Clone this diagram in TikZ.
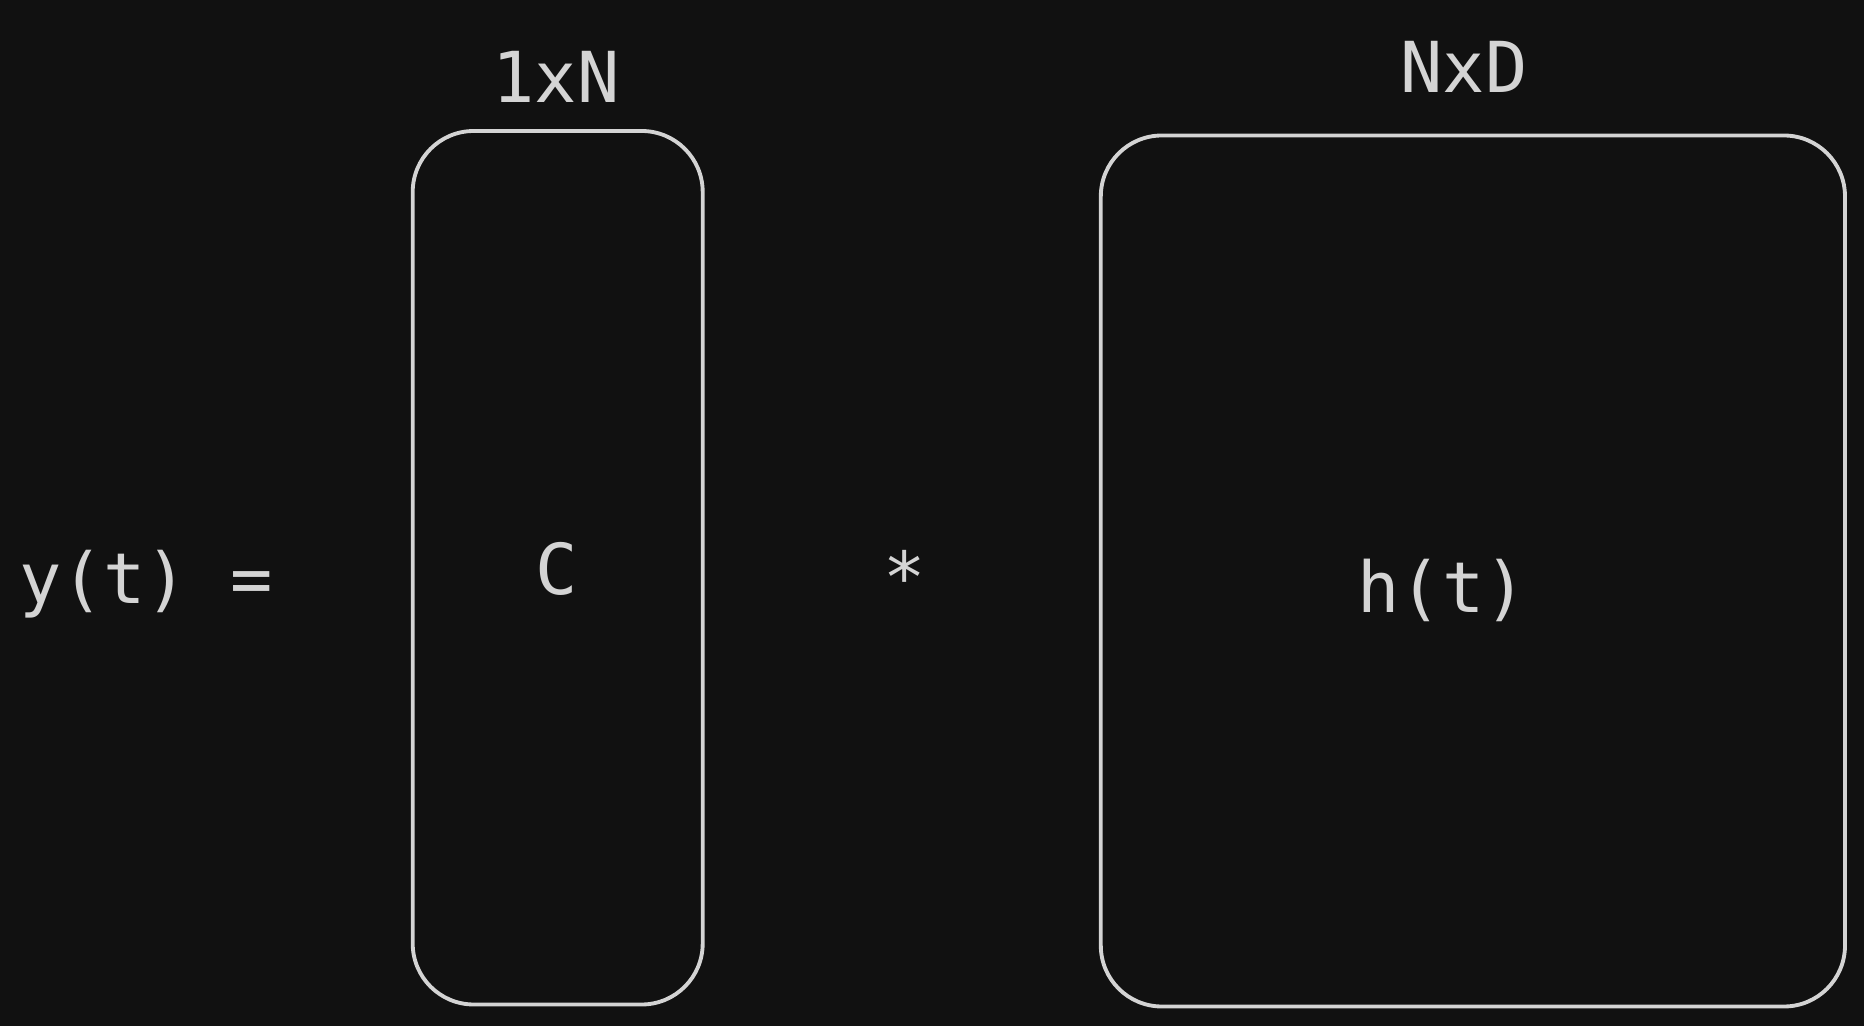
\documentclass[tikz,border=0pt]{standalone}
\usepackage{fontspec}
\setmonofont{DejaVu Sans Mono}
\usepackage{tikz}
\definecolor{bgdark}{HTML}{111111}
\definecolor{inkgray}{HTML}{D4D4D4}

\begin{document}
\begin{tikzpicture}[x=0.02cm,y=-0.02cm,
    line cap=round,line join=round,
    matbox/.style={draw=inkgray,line width=2.2pt,rounded corners=1.22cm},
    eqtext/.style={text=inkgray,anchor=base,inner sep=0pt,
      font=\ttfamily\fontsize{40}{48}\selectfont}]
    % Background and page size.
    \fill[bgdark] (0,0) rectangle (1864,1026);
    \useasboundingbox (0,0) rectangle (1864,1026);

    % The two matrices.
    \draw[matbox] (412.7,131) rectangle (702.7,1004.5);
    \draw[matbox] (1100.8,135.5) rectangle (1845,1006.5);

    % Left-hand side and operator.
    \node[eqtext] (lhs) at (146,604) {y(t) =};
    \node[eqtext] (conv) at (905,603) {*};

    % Matrix contents and sizes.
    \node[eqtext] (cmat) at (557,595) {C};
    \node[eqtext] (hmat) at (1442,613) {h(t)};
    \node[eqtext] (csize) at (556,103) {1xN};
    \node[eqtext] (hsize) at (1464,93) {NxD};
  \end{tikzpicture}
\end{document}
